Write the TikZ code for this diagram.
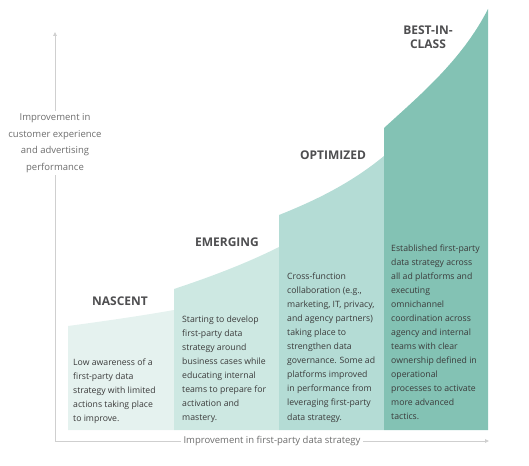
\documentclass[tikz,border=0pt]{standalone}
\usepackage{fontspec}
\setmainfont{Open Sans}
\usepackage{tikz}
\usetikzlibrary{arrows.meta,positioning}
\definecolor{stageA}{HTML}{E5F2EF}
\definecolor{stageB}{HTML}{CDE8E2}
\definecolor{stageC}{HTML}{B4DCD5}
\definecolor{stageD}{HTML}{83C2B4}
\definecolor{bodygray}{HTML}{3B3B3B}
\definecolor{headgray}{HTML}{4E4E50}
\definecolor{lblgray}{HTML}{6E6E6E}
\definecolor{axisgray}{HTML}{CFCFCF}

\begin{document}
\begin{tikzpicture}[x=1pt,y=-1pt,
  stagetxt/.style={anchor=north west,inner sep=0pt,align=left,text=bodygray,
    font=\fontsize{8.7}{14.05}\selectfont},
  stagehead/.style={align=center,text=headgray,inner sep=0pt,
    font=\fontsize{12}{14}\selectfont\bfseries},
  axislbl/.style={fill=white,align=center,text=lblgray,inner sep=3pt,
    font=\fontsize{9.5}{16.5}\selectfont},
  axisline/.style={draw=axisgray,line width=0.8pt,
    {Triangle[length=4pt,width=3.5pt]}-{Triangle[length=4pt,width=3.5pt]}}]
  \useasboundingbox (0,0) rectangle (529,465);

  % stage columns
  \fill[stageA] (68,430) -- (68,326) .. controls (105,321) and (140,316) .. (174,310) -- (174,430) -- cycle;
  \fill[stageB] (174,430) -- (174,289) .. controls (210,277) and (245,264) .. (279,247) -- (279,430) -- cycle;
  \fill[stageC] (279,430) -- (279,215) .. controls (314,201) and (350,184) .. (384,156) -- (384,430) -- cycle;
  \fill[stageD] (384,430) -- (384,128) .. controls (420,95) and (462,60) .. (488,9) -- (488,430) -- cycle;

  % axes
  \coordinate (org) at (55,441);
  \coordinate (ytop) at (55,32);
  \coordinate (xend) at (489,441);
  \draw[axisline] (ytop) -- (org) -- (xend);
  \node[axislbl] (ylbl) at (55,143) {Improvement in\\customer experience\\and advertising\\performance};
  \node[axislbl] (xlbl) at (272,441) {Improvement in first-party data strategy};

  % stage names
  \node[stagehead] (nascent) at (120,301) {NASCENT};
  \node[stagehead] (emerging) at (227,242) {EMERGING};
  \node[stagehead] (optimized) at (333,155) {OPTIMIZED};
  \node[stagehead] (bestclass) at (428,37) {BEST-IN-\\CLASS};

  % stage descriptions
  \node[stagetxt] (nascenttxt) at (73,355.2) {\strut Low awareness of a\\first-party data\\strategy with limited\\actions taking place\\to improve.};
  \node[stagetxt] (emergingtxt) at (182,312.5) {\strut Starting to develop\\first-party data\\strategy around\\business cases while\\educating internal\\teams to prepare for\\activation and\\mastery.};
  \node[stagetxt] (optimizedtxt) at (287,269.5) {\strut Cross-function\\collaboration (e.g.,\\marketing, IT, privacy,\\and agency partners)\\taking place to\\strengthen data\\governance. Some ad\\platforms improved\\in performance from\\leveraging first-party\\data strategy.};
  \node[stagetxt] (bestclasstxt) at (391,241.2) {\strut Established first-party\\data strategy across\\all ad platforms and\\executing\\omnichannel\\coordination across\\agency and internal\\teams with clear\\ownership defined in\\operational\\processes to activate\\more advanced\\tactics.};
\end{tikzpicture}
\end{document}
